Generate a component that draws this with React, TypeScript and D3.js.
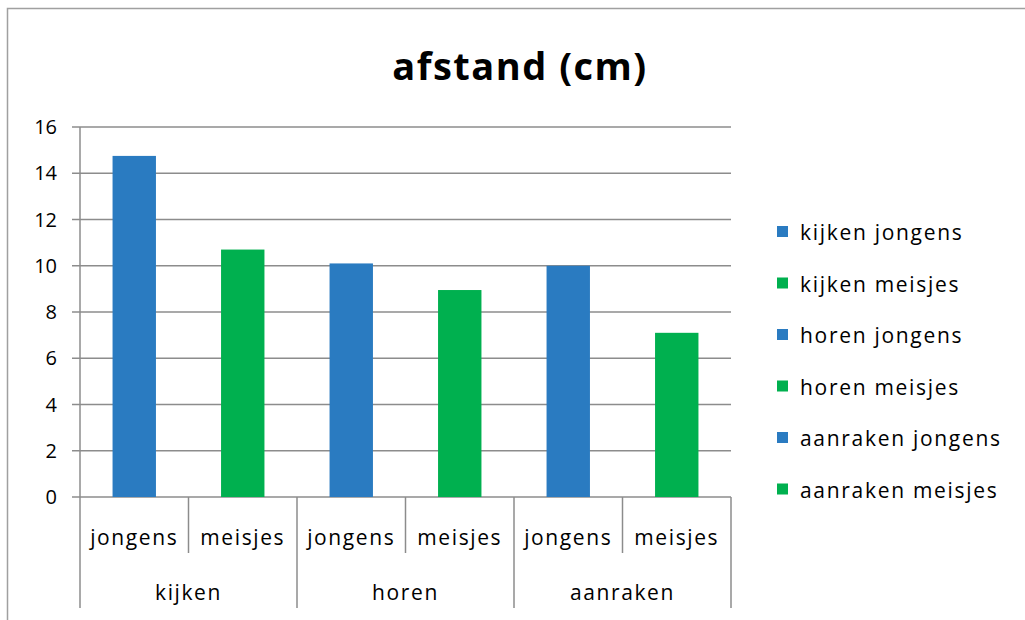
import React from "react";
import * as d3 from "d3";

const groups = ["kijken", "horen", "aanraken"];
const subs = ["jongens", "meisjes"];
const values = [14.75, 10.7, 10.1, 8.95, 10.0, 7.1];
const seriesNames = ["kijken jongens", "kijken meisjes", "horen jongens", "horen meisjes", "aanraken jongens", "aanraken meisjes"];
const yTicks = [0, 2, 4, 6, 8, 10, 12, 14, 16];
const BLUE = "#2A7BC1";
const GREEN = "#00B04F";
const colors = [BLUE, GREEN, BLUE, GREEN, BLUE, GREEN];

const FONT = "'Open Sans', sans-serif";

export default function App() {
  const W = 1025, H = 620;
  const left = 80, right = 731, top = 127, bottom = 497;
  const cats = values.map((_, i) => i);
  const x = d3.scaleBand<number>().domain(cats).range([left, right]).paddingInner(0.6).paddingOuter(0.3);
  const xb = d3.scaleBand<number>().domain(cats).range([left, right]);
  const y = d3.scaleLinear().domain([0, 16]).range([bottom, top]);
  const gridColor = "#8C8C8C";
  return (
    <svg width={W} height={H} style={{ position: "absolute", left: 0, top: 0, background: "#fff" }}>
      <rect x={0} y={0} width={W} height={H} fill="#fff" />
      <rect x={7.5} y={8.5} width={W + 10} height={H + 10} fill="none" stroke="#A0A0A0" strokeWidth={1.5} />
      <text x={520} y={80} textAnchor="middle" fontFamily={FONT} fontWeight="bold" fontSize={38} letterSpacing={1.5} fill="#000">afstand (cm)</text>
      {yTicks.map((t) => (
        <g key={t}>
          <line x1={72} x2={right} y1={y(t)} y2={y(t)} stroke={gridColor} strokeWidth={1.5} />
          <text x={57} y={y(t) + 7} textAnchor="end" fontFamily={FONT} fontSize={20} fill="#000">{t}</text>
        </g>
      ))}
      <line x1={left} x2={left} y1={top} y2={608} stroke={gridColor} strokeWidth={1.5} />
      {cats.map((i) => (
        <rect key={i} x={x(i)} y={y(values[i])} width={x.bandwidth()} height={y(0) - y(values[i])} fill={colors[i]} />
      ))}
      {cats.map((i) => (
        <g key={"c" + i}>
          <line x1={(xb(i) as number) + xb.bandwidth()} x2={(xb(i) as number) + xb.bandwidth()} y1={bottom} y2={i % 2 === 1 ? 608 : 553} stroke={gridColor} strokeWidth={1.5} />
          <text x={(xb(i) as number) + xb.bandwidth() / 2} y={545} textAnchor="middle" fontFamily={FONT} fontSize={21} letterSpacing={1.6} fill="#000">{subs[i % 2]}</text>
        </g>
      ))}
      {groups.map((g, gi) => (
        <text key={g} x={left + (gi + 0.5) * 2 * xb.bandwidth()} y={600} textAnchor="middle" fontFamily={FONT} fontSize={21} letterSpacing={1.6} fill="#000">{g}</text>
      ))}
      {seriesNames.map((s, i) => (
        <g key={s}>
          <rect x={777} y={226 + i * 51.5} width={11} height={11} fill={colors[i]} />
          <text x={800} y={240 + i * 51.5} fontFamily={FONT} fontSize={21} letterSpacing={1.7} fill="#000">{s}</text>
        </g>
      ))}
    </svg>
  );
}
